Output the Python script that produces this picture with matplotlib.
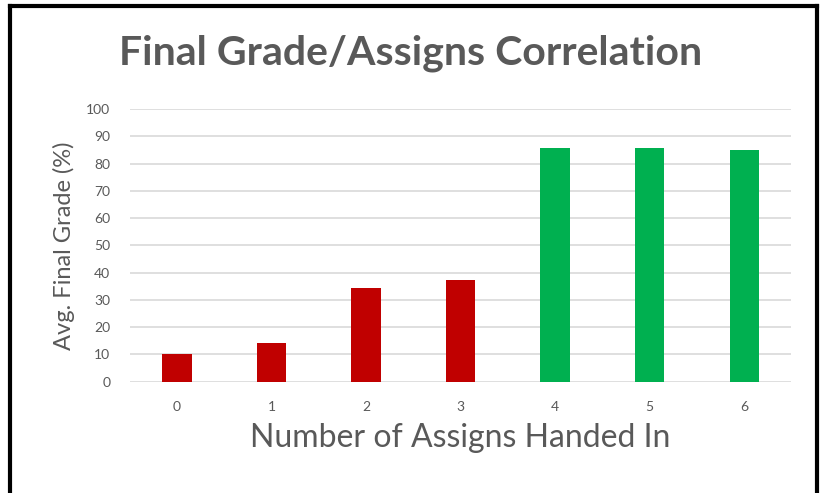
import matplotlib.pyplot as plt
from matplotlib.lines import Line2D

# data
assigns = [0, 1, 2, 3, 4, 5, 6]
grades = [10.0, 14.3, 34.2, 37.2, 85.6, 85.6, 84.9]
colors = ['#C00000'] * 4 + ['#00B050'] * 3
yticks = list(range(0, 101, 10))

plt.rcParams['font.family'] = ['Lato', 'DejaVu Sans']
txt = '#595959'

fig = plt.figure(figsize=(8.21, 4.93), dpi=100)
ax = fig.add_axes([0.158, 0.2258, 0.806, 0.553])

ax.bar(assigns, grades, width=0.31, color=colors, zorder=3)
ax.set_xlim(-0.5, 6.5)
ax.set_ylim(0, 100)
ax.set_yticks(yticks)
ax.set_xticks(assigns)
ax.grid(axis='y', color='#D9D9D9', linewidth=1.2, zorder=0)
for s in ax.spines.values():
    s.set_visible(False)
ax.tick_params(length=0, labelsize=10, labelcolor=txt)
ax.tick_params(axis='y', pad=14)
ax.tick_params(axis='x', pad=14)

ax.set_xlabel('Number of Assigns Handed In', fontsize=23, color=txt, labelpad=7)
ax.set_ylabel('Avg. Final Grade (%)', fontsize=17, color=txt, labelpad=8)
fig.text(0.5, 0.893, 'Final Grade/Assigns Correlation', ha='center', va='center',
         fontsize=29.5, fontweight='bold', color=txt)

# black frame on left, top and right (no bottom edge in the reference)
W, H = 821, 493
xl, xr, yt = 10 / W, 817 / W, 1 - 6 / H
for xs, ys in [([xl, xl], [0, yt]), ([xl, xr], [yt, yt]), ([xr, xr], [yt, 0])]:
    fig.add_artist(Line2D(xs, ys, transform=fig.transFigure, color='black', linewidth=3))

fig.savefig('out.png', dpi=100)
